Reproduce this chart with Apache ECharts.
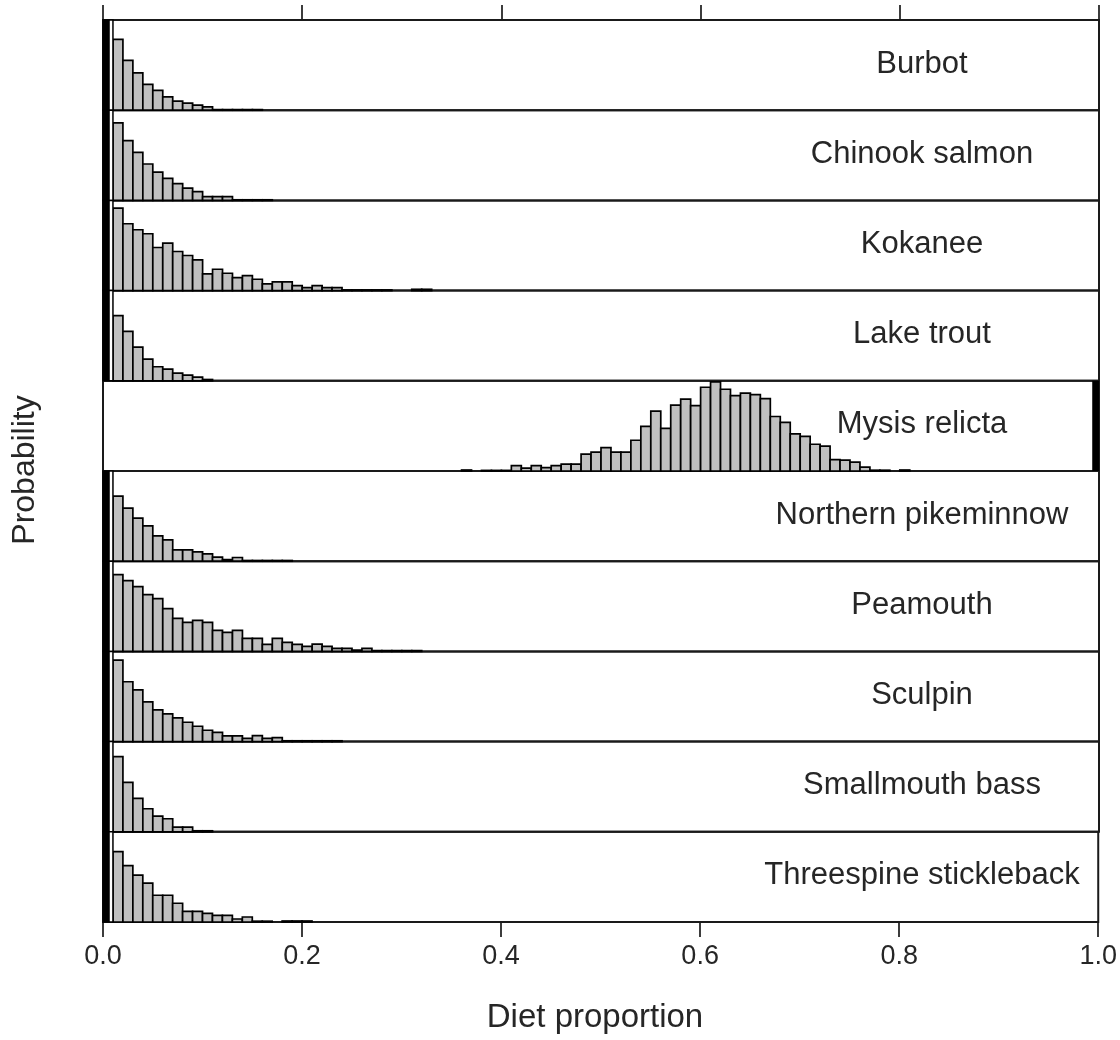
<!DOCTYPE html>
<html>
<head>
<meta charset="utf-8">
<script src="https://cdn.jsdelivr.net/npm/echarts@6/dist/echarts.min.js"></script>
<style>
  html, body { margin: 0; padding: 0; background: #fff; }
  #chart { width: 1120px; height: 1040px; }
</style>
</head>
<body>
<div id="chart"></div>
<script>
// Posterior diet-proportion histograms, one panel per consumer
const species = ['Burbot', 'Chinook salmon', 'Kokanee', 'Lake trout', 'Mysis relicta',
  'Northern pikeminnow', 'Peamouth', 'Sculpin', 'Smallmouth bass', 'Threespine stickleback'];
const binWidth = 0.01;
const tickLabels = ['0.0', '0.2', '0.4', '0.6', '0.8', '1.0'];

// the tall boundary bin of each panel (at 0 or at 1) and its height
const edgeBinStart = [0, 0, 0, 0, 0.99, 0, 0, 0, 0, 0];
const edgeHeight = [90, 90, 90, 90, 91, 90, 90, 90, 90, 90];
// lower edge of the first regular bin of each histogram
const histStart = [0.01, 0.01, 0.01, 0.01, 0.36, 0.01, 0.01, 0.01, 0.01, 0.01];

const burbot = [70.7, 49.7, 37.3, 25.7, 19.7, 13.3, 9, 7, 5, 3.3, 0.6, 0.6, 0.6, 0.6, 0.6];
const chinook = [77.3, 59.7, 48, 36.3, 28.3, 22, 16.7, 12.3, 8.7, 3.7, 3.7, 3.7, 0.6, 0.6, 0.6, 0.6];
const kokanee = [82.3, 66.7, 60.7, 56.7, 43, 47.3, 39, 35, 30.7, 16.7, 21.3, 17.3, 13, 15, 11.3, 6.7,
  8.7, 8.7, 5, 3, 5, 3, 3, 0.7, 0.7, 0.7, 0.7, 0.7, 0, 0, 1.3, 1.3];
const lakeTrout = [65, 49.3, 33.7, 21.7, 14, 11.7, 7.7, 5.7, 3.7, 1.3];
const mysis = [1, 0, 0.6, 0.6, 0.6, 5.5, 3, 5.5, 3.5, 5.5, 7, 7, 17, 19, 23.5, 19, 19, 31, 45, 60.5,
  43, 66.5, 72.5, 66, 84.5, 90, 82.5, 76, 78.5, 77, 73, 55, 49, 37.5, 35, 27, 25, 11.5, 11, 9, 4,
  0.8, 0.8, 0, 1];
const pikeminnow = [65, 53, 43, 35.3, 25.3, 21.3, 11.3, 11.3, 9.3, 7.3, 4, 1.7, 3.7, 0.7, 0.7, 0.7, 0.7, 0.7];
const peamouth = [76.7, 70.7, 64.7, 56.7, 52.7, 42.7, 33, 29, 31, 29, 21, 19, 21, 13, 13, 7, 13, 9, 7, 5,
  7.3, 5, 3, 3, 1.3, 3, 0.8, 0.8, 0.8, 0.8, 0.8];
const sculpin = [81.3, 59.7, 51.7, 39.7, 31.7, 27.7, 23.7, 19.3, 15.3, 11.3, 9.3, 5.7, 5.7, 3.3, 6, 3.3, 4,
  0.8, 0.8, 0.8, 0.8, 0.8, 0.8];
const smallmouth = [75, 49.3, 33.3, 23, 15.7, 13, 4.7, 4.7, 1, 1];
const stickleback = [70.3, 56.3, 46.7, 38.7, 26.7, 26.7, 18.7, 10.7, 10.7, 8.7, 6.7, 6.7, 3, 5, 0.8, 0.8, 0, 1, 1, 1];

const histograms = [burbot, chinook, kokanee, lakeTrout, mysis, pikeminnow, peamouth, sculpin, smallmouth, stickleback];

const FONT = '"Liberation Sans", Arial, sans-serif';
const INK = '#1a1a1a';
const TEXT = '#262626';
const PLOT_TOP = 20;
const PANEL_H = 90.2;
const LEFT = 103;
const RIGHT = 21;

function renderBin(params, api) {
  const x0 = api.value(0), x1 = api.value(1), h = api.value(2), edge = api.value(3);
  if (!(h > 0)) return null;
  const p0 = api.coord([x0, 0]);
  const p1 = api.coord([x1, h]);
  const w = p1[0] - p0[0];
  const rect = { x: p0[0], y: p1[1], width: w, height: p0[1] - p1[1] };
  if (!edge) {
    return { type: 'rect', shape: rect, style: { fill: '#c0c0c0', stroke: '#000', lineWidth: 1.7 } };
  }
  const bw = w * 0.68;
  const solid = { type: 'rect', shape: { x: x0 === 0 ? p0[0] : p1[0] - bw, y: p1[1], width: bw, height: p0[1] - p1[1] }, style: { fill: '#000' } };
  if (x0 !== 0) return solid;
  return {
    type: 'group',
    children: [
      { type: 'rect', shape: rect, style: { fill: '#fff', stroke: '#000', lineWidth: 1.5 } },
      solid
    ]
  };
}

const grids = [], xAxes = [], yAxes = [], series = [], graphics = [];

species.forEach((name, i) => {
  const top = PLOT_TOP + i * PANEL_H;
  const isTop = i === 0;
  const isBottom = i === species.length - 1;
  grids.push({
    left: LEFT, right: RIGHT, top: top, height: PANEL_H,
    show: true, borderColor: INK, borderWidth: 2, backgroundColor: 'transparent'
  });
  xAxes.push({
    gridIndex: i, type: 'value', min: 0, max: 1, interval: 0.2,
    position: isTop ? 'top' : 'bottom',
    axisLine: { show: false, onZero: false },
    splitLine: { show: false },
    axisTick: { show: isTop || isBottom, length: 15, lineStyle: { color: INK, width: 1.7 } },
    axisLabel: {
      show: isBottom, margin: 21, fontSize: 27, color: TEXT, fontFamily: FONT,
      formatter: v => tickLabels[Math.round(v / 0.2)]
    }
  });
  yAxes.push({ gridIndex: i, type: 'value', min: 0, max: edgeHeight[i], show: false });

  const data = histograms[i].map((h, k) => {
    const x0 = +(histStart[i] + k * binWidth).toFixed(4);
    return [x0, +(x0 + binWidth).toFixed(4), h, 0];
  });
  data.push([edgeBinStart[i], +(edgeBinStart[i] + binWidth).toFixed(4), edgeHeight[i], 1]);

  series.push({
    type: 'custom', name: name, xAxisIndex: i, yAxisIndex: i,
    data: data, renderItem: renderBin, encode: { x: [0, 1], y: 2 },
    clip: false, silent: true, animation: false
  });

  graphics.push({
    type: 'text', x: 922, y: top + 44, silent: true,
    style: { text: name, align: 'center', verticalAlign: 'middle', fontSize: 31, fontFamily: FONT, fill: TEXT }
  });
});

graphics.push({
  type: 'text', x: 25, y: 470, rotation: Math.PI / 2, silent: true,
  style: { text: 'Probability', align: 'center', verticalAlign: 'middle', fontSize: 32, fontFamily: FONT, fill: TEXT }
});
graphics.push({
  type: 'text', x: 595, y: 1018, silent: true,
  style: { text: 'Diet proportion', align: 'center', verticalAlign: 'middle', fontSize: 33, fontFamily: FONT, fill: TEXT }
});

const chart = echarts.init(document.getElementById('chart'));
chart.setOption({
  animation: false,
  backgroundColor: '#fff',
  grid: grids,
  xAxis: xAxes,
  yAxis: yAxes,
  series: series,
  graphic: graphics
});
</script>
</body>
</html>
